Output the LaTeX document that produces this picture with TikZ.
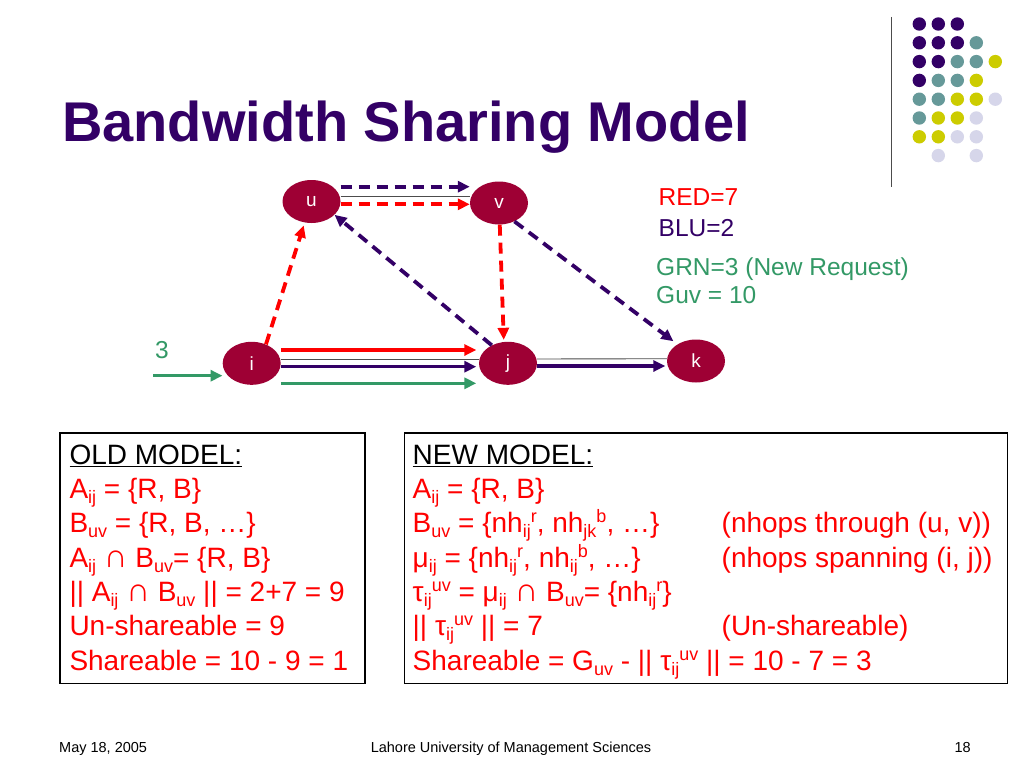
\documentclass[tikz,border=0pt]{standalone}
\usepackage{fontspec}
\setmainfont{Liberation Sans}
\usetikzlibrary{shapes.geometric, arrows.meta}
\definecolor{deeppurple}{RGB}{51,0,102}
\definecolor{flowred}{RGB}{255,0,0}
\definecolor{flowgreen}{RGB}{51,153,102}
\definecolor{hopfill}{RGB}{158,0,52}
\definecolor{dotteal}{RGB}{102,153,153}
\definecolor{dotyellow}{RGB}{204,204,0}
\definecolor{dotlav}{RGB}{214,214,234}
\newcommand\subtx[1]{\raisebox{-5pt}{\fontsize{18}{18}\selectfont #1}}
\newcommand\suptx[1]{\raisebox{10pt}{\fontsize{18}{18}\selectfont #1}}
\newcommand\meetop{{\fontsize{33}{33}\selectfont ∩}}
\tikzset{
x=1pt, y=-1pt, % one unit per pixel, y grows downwards
hop/.style={ellipse, fill=hopfill, text=white, minimum width=58pt, minimum height=43pt, inner sep=0pt, font=\fontsize{19}{19}\selectfont}, % the routers
flow/.style={line width=3.3pt, -{Triangle[length=12pt,width=11pt]}}, % solid flows
dflow/.style={flow, line width=3.8pt, dash pattern=on 11pt off 7pt}, % dashed flows
link/.style={line width=0.9pt, draw=gray!60!black}, % the physical links
legend/.style={anchor=base west, inner sep=0pt, font=\fontsize{24.5}{24.5}\selectfont}, % text beside the graph
modelbox/.style={draw, line width=1.3pt, anchor=north west, inner sep=0pt, minimum height=250.4pt}, % framed boxes
modeltext/.style={anchor=base west, inner sep=0pt, text=flowred, font=\fontsize{28}{34.3}\selectfont}, % box contents
}

\begin{document}
\begin{tikzpicture}

\fill[white] (0,0) rectangle (1024,768);
\useasboundingbox (0,0) rectangle (1024,768);

% title and corner decoration
\node[anchor=base west, inner sep=0pt, text=deeppurple, font=\fontsize{56}{56}\selectfont\bfseries] at (62,141.7) (title) {Bandwidth Sharing Model};
\draw[line width=1.3pt, gray!60!black] (891.7,17) -- (891.7,187);
\foreach \c/\r in {0/0,1/0,2/0,0/1,1/1,2/1,0/2,1/2,0/3} \fill[deeppurple] (919.3+19*\c,24+18.8*\r) circle[radius=6.7];
\foreach \c/\r in {3/1,2/2,3/2,1/3,2/3,0/4,1/4,0/5} \fill[dotteal] (919.3+19*\c,24+18.8*\r) circle[radius=6.7];
\foreach \c/\r in {4/2,3/3,2/4,3/4,1/5,2/5,0/6,1/6} \fill[dotyellow] (919.3+19*\c,24+18.8*\r) circle[radius=6.7];
\foreach \c/\r in {4/4,3/5,2/6,3/6,1/7,3/7} \fill[dotlav] (919.3+19*\c,24+18.8*\r) circle[radius=6.7];

% the network
\node[hop] at (311.5,201.5) (u) {u};
\node[hop] at (499,203) (v) {v};
\node[hop] at (251.7,363.3) (i) {i};
\node[hop] at (508,363.3) (j) {j};
\node[hop] at (696,361) (k) {k};
\coordinate (src) at (153,375.7);

\draw ([yshift=5.5pt]u.east) edge[link] ([yshift=7pt]v.west);
\draw ([yshift=4.3pt]i.east) edge[link] ([yshift=4.3pt]j.west);
\draw ([yshift=4.3pt]j.east) edge[link] ([yshift=2.3pt]k.west);

\draw ([yshift=14.8pt]u.east) edge[dflow, deeppurple] ([yshift=16.3pt]v.west);
\draw ([yshift=-2.8pt]u.east) edge[dflow, flowred] ([yshift=-1.3pt]v.west);
\draw (i.53) edge[dflow, flowred, shorten >=3pt] (u.-108);
\draw (j.132) edge[dflow, deeppurple] (u.-30);
\draw (v.-88) edge[dflow, flowred, shorten >=2pt] (j.101);
\draw (v.-50) edge[dflow, deeppurple, shorten >=5pt] (k.138);

\draw ([yshift=13.3pt]i.east) edge[flow, flowred, shorten >=2.5pt] ([yshift=13.3pt]j.west);
\draw ([yshift=-3.4pt]i.east) edge[flow, deeppurple, shorten >=2.5pt] ([yshift=-3.4pt]j.west);
\draw ([yshift=-20pt]i.east) edge[flow, flowgreen, shorten >=2.5pt] ([yshift=-20pt]j.west);
\draw ([yshift=-2.7pt]j.east) edge[flow, deeppurple, shorten >=1.5pt] ([yshift=-5pt]k.west);
\draw (src) edge[flow, flowgreen] ([yshift=-12.4pt]i.west);

\node[legend, text=flowgreen] at (155,358.3) (inflow) {3};
\node[legend, text=flowred] at (658.5,205.7) (redcount) {RED=7};
\node[legend, text=deeppurple] at (658.5,236.7) (blucount) {BLU=2};
\node[legend, text=flowgreen] at (656,275) (grncount) {GRN=3 (New Request)};
\node[legend, text=flowgreen] at (656,303.3) (guvcount) {Guv = 10};

% the two models
\node[modelbox, minimum width=305pt] at (59.3,432.3) (oldbox) {};
\node[modelbox, minimum width=603pt] at (404,432.3) (newbox) {};

\node[modeltext] at (69.3,464.3) (oldtext) {\begin{tabular}[t]{@{}l@{}}
\textcolor{black}{\underline{OLD MODEL:}}\\
A\subtx{ij} = \{R, B\}\\
B\subtx{uv} = \{R, B, …\}\\
A\subtx{ij} \meetop{} B\subtx{uv}= \{R, B\}\\
|| A\subtx{ij} \meetop{} B\subtx{uv} || = 2+7 = 9\\
Un-shareable = 9\\
Shareable = 10 - 9 = 1
\end{tabular}};

\node[modeltext] at (412.5,464.3) (newtext) {\begin{tabular}[t]{@{}l@{}}
\textcolor{black}{\underline{NEW MODEL:}}\\
A\subtx{ij} = \{R, B\}\\
\makebox[309pt][l]{B\subtx{uv} = \{nh\subtx{ij}\suptx{r}, nh\subtx{jk}\suptx{b}, …\}}(nhops through (u, v))\\
\makebox[309pt][l]{μ\subtx{ij} = \{nh\subtx{ij}\suptx{r}, nh\subtx{ij}\suptx{b}, …\}}(nhops spanning (i, j))\\
τ\subtx{ij}\suptx{uv} = μ\subtx{ij} \meetop{} B\subtx{uv}= \{nh\subtx{ij}\suptx{r}\}\\
\makebox[309pt][l]{|| τ\subtx{ij}\suptx{uv} || = 7}(Un-shareable)\\
Shareable = G\subtx{uv} - || τ\subtx{ij}\suptx{uv} || = 10 - 7 = 3
\end{tabular}};

% footer
\node[anchor=base west, inner sep=0pt, font=\fontsize{14.5}{14.5}\selectfont] at (59,752) (date) {May 18, 2005};
\node[anchor=base, inner sep=0pt, font=\fontsize{14.5}{14.5}\selectfont] at (511,752) (school) {Lahore University of Management Sciences};
\node[anchor=base east, inner sep=0pt, font=\fontsize{14.5}{14.5}\selectfont] at (971,752) (pageno) {18};

\end{tikzpicture}
\end{document}
